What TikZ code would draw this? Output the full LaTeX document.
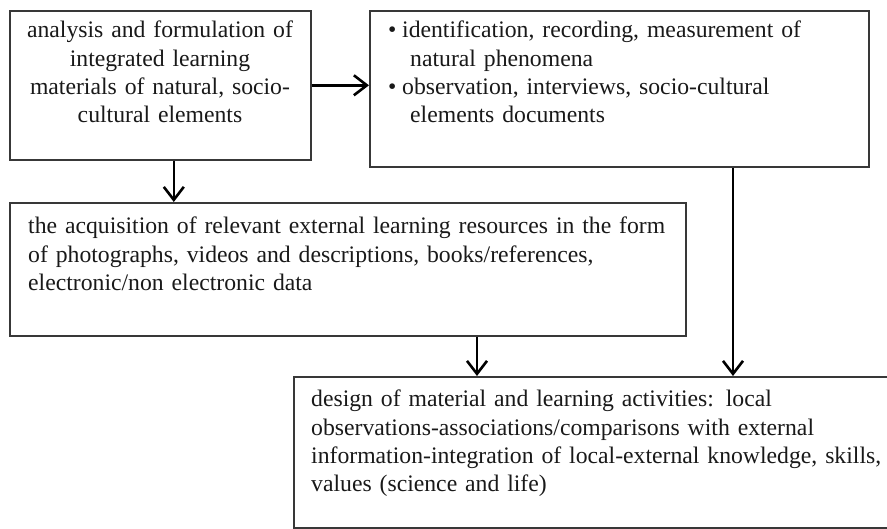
\documentclass[tikz,border=0pt]{standalone}
\usepackage{fontspec}
\setmainfont{Liberation Serif}
\usetikzlibrary{arrows.meta}
\begin{document}
\begin{tikzpicture}[x=1pt,y=-1pt,
  box/.style={draw=black!78, line width=1.6pt, inner sep=0pt, anchor=north west},
  txt/.style={inner sep=0pt, anchor=base west, align=left, font=\fontsize{23.7}{28.2}\selectfont, text=black!90},
  arr/.style={line width=2.6pt, -{Straight Barb[length=13pt,width=20pt,line width=2.6pt]}}]
\useasboundingbox (0,0) rectangle (887,529);
% boxes
\node[box, minimum width=301pt, minimum height=149pt] (b1) at (9,10) {};
\node[box, minimum width=499pt, minimum height=156pt] (b2) at (369,10) {};
\node[box, minimum width=676pt, minimum height=133pt] (b3) at (9,202) {};
\node[box, minimum width=610pt, minimum height=151pt] (b4) at (293,376) {};
% texts
\node[txt, anchor=base, text width=295pt, align=center] (t1) at (160,38)
  {analysis and formulation of\\ integrated learning\\ materials of natural, socio-\\ cultural elements};
\node[txt, text width=475pt] (t2) at (388,38)
  {\makebox[14pt][l]{\textbullet}identification, recording, measurement of\\
   \hspace*{22pt}natural phenomena\\
   \makebox[14pt][l]{\textbullet}observation, interviews, socio-cultural\\
   \hspace*{22pt}elements documents};
\node[txt, text width=650pt] (t3) at (28,234)
  {the acquisition of relevant external learning resources in the form\\
   of photographs, videos and descriptions, books/references,\\
   electronic/non electronic data};
\node[txt, text width=570pt] (t4) at (311,407)
  {design of material and learning activities: local\\
   observations-associations/comparisons with external\\
   information-integration of local-external knowledge, skills,\\
   values (science and life)};
% connectors
\draw[arr] (b1.east) -- (b1.east -| b2.west);
\draw[arr] ([xshift=13.5pt]b1.south) -- ([xshift=13.5pt]b1.south |- b3.north);
\draw[arr] ([xshift=468pt]b3.south west) -- ([xshift=468pt]b3.south west |- b4.north);
\draw[arr] ([xshift=364pt]b2.south west) -- ([xshift=364pt]b2.south west |- b4.north);
\end{tikzpicture}
\end{document}
